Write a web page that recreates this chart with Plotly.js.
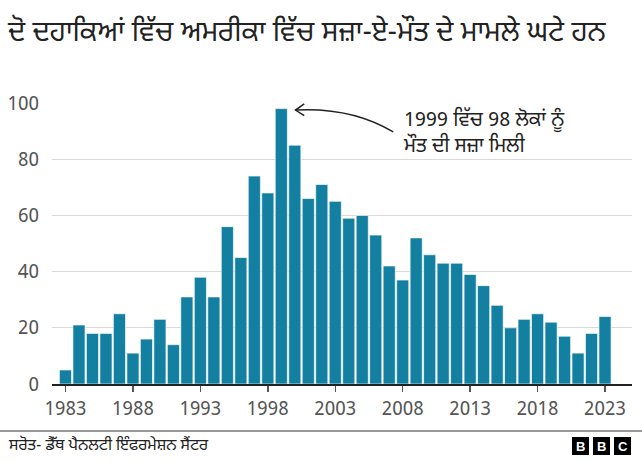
<!DOCTYPE html>
<html><head><meta charset="utf-8">
<script src="https://cdn.plot.ly/plotly-3.0.1.min.js"></script>
<style>body{margin:0;padding:0;background:#fff}#chart{width:642px;height:462px}</style>
</head><body><div id="chart"></div>
<script>
const years = [1983,1984,1985,1986,1987,1988,1989,1990,1991,1992,1993,1994,1995,1996,1997,1998,1999,2000,2001,2002,2003,2004,2005,2006,2007,2008,2009,2010,2011,2012,2013,2014,2015,2016,2017,2018,2019,2020,2021,2022,2023];
const executions = [5,21,18,18,25,11,16,23,14,31,38,31,56,45,74,68,98,85,66,71,65,59,60,53,42,37,52,46,43,43,39,35,28,20,23,25,22,17,11,18,24];
const xTicks = [1983,1988,1993,1998,2003,2008,2013,2018,2023];
const yTicks = [0,20,40,60,80,100];
const titleText = "ਦੋ ਦਹਾਕਿਆਂ ਵਿੱਚ ਅਮਰੀਕਾ ਵਿੱਚ ਸਜ਼ਾ-ਏ-ਮੌਤ ਦੇ ਮਾਮਲੇ ਘਟੇ ਹਨ";
const noteText = "1999 ਵਿੱਚ 98 ਲੋਕਾਂ ਨੂੰ<br>ਮੌਤ ਦੀ ਸਜ਼ਾ ਮਿਲੀ";
const sourceText = "ਸਰੋਤ- ਡੈੱਥ ਪੈਨਲਟੀ ਇੰਫਰਮੇਸ਼ਨ ਸੈਂਟਰ";

const FONT = '"Noto Sans Gurmukhi", "Noto Sans", "Open Sans", sans-serif';
const peakIdx = executions.indexOf(Math.max(...executions));
const px = years[peakIdx], py = executions[peakIdx];

// curved arrow (data coords relative to the peak bar)
const tipX = px + 1.05, tipY = py - 0.5;
const startX = px + 8.3, startY = py - 8.3;
const ctrlX = px + 5.2, ctrlY = py + 0.6;
const curve = `M ${startX} ${startY} Q ${ctrlX} ${ctrlY} ${tipX} ${tipY}`;
const head = `M ${tipX+0.65} ${tipY+2.2} L ${tipX} ${tipY} L ${tipX+0.65} ${tipY-2.0}`;

const trace = {
  type: 'bar', x: years, y: executions,
  marker: {color: '#1380a1', line: {color: 'rgba(255,255,255,0.65)', width: 1}},
  width: 0.9, hoverinfo: 'x+y'
};

const shapes = [
  {type:'path', xref:'x', yref:'y', path: curve, line:{color:'#222', width:1.5}},
  {type:'path', xref:'x', yref:'y', path: head, line:{color:'#222', width:1.5}},
  {type:'line', xref:'paper', yref:'paper', x0:-52/580, x1:1+10/580, y0:-47/281, y1:-47/281, line:{color:'#333', width:1.2}},
];
const annotations = [
  {xref:'x', yref:'y', x: px + 8.85, y: py - 8.6, xanchor:'left', yanchor:'middle', align:'left', showarrow:false,
   text: noteText, font:{family:FONT, size:20, color:'#222'}},
  {xref:'paper', yref:'paper', x:-46/580, y:-61/281, xanchor:'left', yanchor:'middle', showarrow:false,
   text: sourceText, font:{family:FONT, size:15.8, color:'#222'}}
];
// BBC blocks
const letters = ['B','B','C'];
letters.forEach((L,i)=>{
  const x0 = 520 + i*21; // pixels from plot left
  shapes.push({type:'rect', xref:'paper', yref:'paper', x0: x0/580, x1:(x0+17)/580, y0:-71/281, y1:-53/281, fillcolor:'#000', line:{width:0}});
  annotations.push({xref:'paper', yref:'paper', x:(x0+8.5)/580, y:-62/281, showarrow:false, text:L,
    font:{family:'"Liberation Sans", Arial, sans-serif', size:13, color:'#fff', weight:'bold'}, xanchor:'center', yanchor:'middle'});
});

const layout = {
  width: 642, height: 462,
  margin: {l:52, r:10, t:103, b:78},
  paper_bgcolor:'#fff', plot_bgcolor:'#fff',
  showlegend:false,
  title: {text: titleText, x: 8/642, xanchor:'left', y: 1-31/462, yanchor:'middle', font:{family:FONT, size:28, color:'#222'}},
  xaxis: {range:[1982, 2025], tickvals:xTicks, ticktext:xTicks.map(String), ticks:'outside', ticklen:6, tickwidth:1.5, tickcolor:'#555',
    showline:true, linecolor:'#222', linewidth:2, showgrid:false, zeroline:false,
    tickfont:{family:FONT, size:19, color:'#555'}, fixedrange:true},
  yaxis: {range:[0,100], tickvals:yTicks, ticktext:yTicks.map(String), showgrid:true, gridcolor:'#d9d9d9', gridwidth:1, zeroline:false,
    ticks:'', ticklabelstandoff:12, tickfont:{family:FONT, size:19, color:'#555'}, fixedrange:true},
  bargap: 0.1,
  shapes, annotations
};
Plotly.newPlot('chart', [trace], layout, {displayModeBar:false, staticPlot:true});
</script></body></html>
